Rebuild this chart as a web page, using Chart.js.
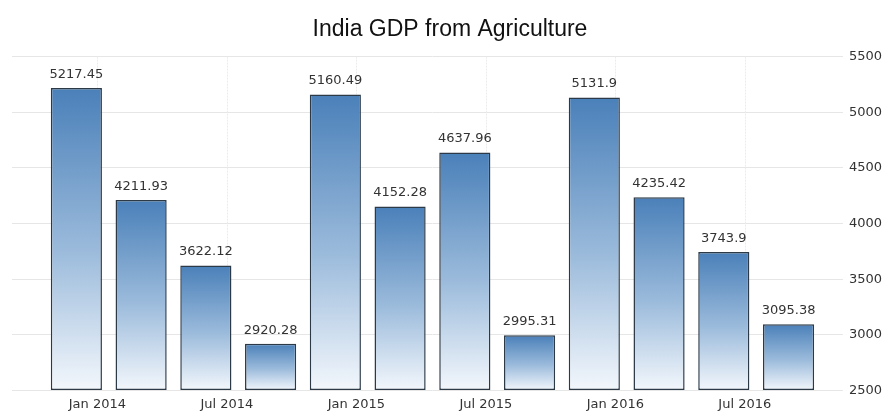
<!DOCTYPE html>
<html>
<head>
<meta charset="utf-8">
<title>India GDP from Agriculture</title>
<script src="https://cdn.jsdelivr.net/npm/chart.js@4.4.0/dist/chart.umd.min.js"></script>
<style>
    body { margin: 0; background: #fff; }
    #wrap { width: 888px; height: 412px; }
</style>
</head>
<body>
<div id="wrap"><canvas id="chart"></canvas></div>
<script>
const quarters = ["Jan 2014", "Apr 2014", "Jul 2014", "Oct 2014", "Jan 2015", "Apr 2015", "Jul 2015", "Oct 2015", "Jan 2016", "Apr 2016", "Jul 2016", "Oct 2016"];
const gdpAgri = [5217.45, 4211.93, 3622.12, 2920.28, 5160.49, 4152.28, 4637.96, 2995.31, 5131.9, 4235.42, 3743.9, 3095.38];
const yMin = 2500;
const yMax = 5500;
const yStep = 500;

const labelFont = "13px 'DejaVu Sans'";
const gridColor = "#e6e6e6";

// gradient per bar, from its own top down to the axis
function barFill(ctx) {
    const chart = ctx.chart;
    const area = chart.chartArea;
    if (!area || ctx.parsed == null) return "#4a80b9";
    const top = chart.scales.y.getPixelForValue(ctx.parsed.y);
    const g = chart.ctx.createLinearGradient(0, top, 0, area.bottom);
    g.addColorStop(0, "#4a80b9");
    g.addColorStop(0.55, "#9dbcdc");
    g.addColorStop(1, "#f3f7fc");
    return g;
}

// faint vertical lines at the shown dates
const vGrid = {
    id: "vGrid",
    beforeDatasetsDraw(chart) {
        const x = chart.scales.x;
        const area = chart.chartArea;
        const c = chart.ctx;
        const off = x.options.ticks.labelOffset;
        c.save();
        c.strokeStyle = "#ececec";
        c.lineWidth = 1;
        c.setLineDash([2, 1]);
        quarters.forEach((q, i) => {
            if (i % 2) return;
            const px = Math.round(x.getPixelForTick(i) + off) + 0.5;
            c.beginPath();
            c.moveTo(px, area.top);
            c.lineTo(px, area.bottom);
            c.stroke();
        });
        c.restore();
    }
};

const valueLabels = {
    id: "valueLabels",
    afterDatasetsDraw(chart) {
        const c = chart.ctx;
        const meta = chart.getDatasetMeta(0);
        c.save();
        c.font = labelFont;
        c.fillStyle = "#333";
        c.textAlign = "center";
        c.textBaseline = "bottom";
        meta.data.forEach((bar, i) => {
            c.fillText(String(gdpAgri[i]), bar.x, bar.y - 7);
        });
        c.restore();
    }
};

new Chart(document.querySelector("#chart"), {
    type: "bar",
    data: {
        labels: quarters,
        datasets: [{
            data: gdpAgri,
            base: yMin,
            backgroundColor: barFill,
            borderColor: "#2c3a48",
            borderWidth: 1.5,
            borderSkipped: false,
            barPercentage: 0.79,
            categoryPercentage: 1
        }]
    },
    options: {
        responsive: true,
        maintainAspectRatio: false,
        animation: false,
        layout: { padding: { left: 12, right: 0, top: 0, bottom: -6 } },
        plugins: {
            legend: { display: false },
            tooltip: { enabled: false },
            title: {
                display: true,
                text: "India GDP from Agriculture",
                color: "#111",
                font: { family: "'Liberation Sans', Arial", size: 23, weight: "normal" },
                padding: { top: 16, bottom: 13 }
            }
        },
        scales: {
            x: {
                grid: { display: false, drawTicks: false },
                border: { display: false },
                ticks: {
                    autoSkip: false,
                    maxRotation: 0,
                    padding: 6,
                    labelOffset: 21,
                    color: "#333",
                    font: { family: "'DejaVu Sans'", size: 13 },
                    callback: (v, i) => (i % 2 ? "" : quarters[i])
                }
            },
            y: {
                position: "right",
                min: yMin,
                max: yMax,
                border: { display: false },
                grid: { color: gridColor, tickLength: 22 },
                ticks: {
                    stepSize: yStep,
                    padding: 6,
                    color: "#333",
                    font: { family: "'DejaVu Sans'", size: 13 },
                    callback: v => String(v)
                }
            },
            yLeft: {
                position: "left",
                min: yMin,
                max: yMax,
                border: { display: false },
                grid: { color: gridColor, tickLength: 32, drawOnChartArea: false },
                ticks: { stepSize: yStep, display: false }
            }
        }
    },
    plugins: [vGrid, valueLabels]
});
</script>
</body>
</html>
